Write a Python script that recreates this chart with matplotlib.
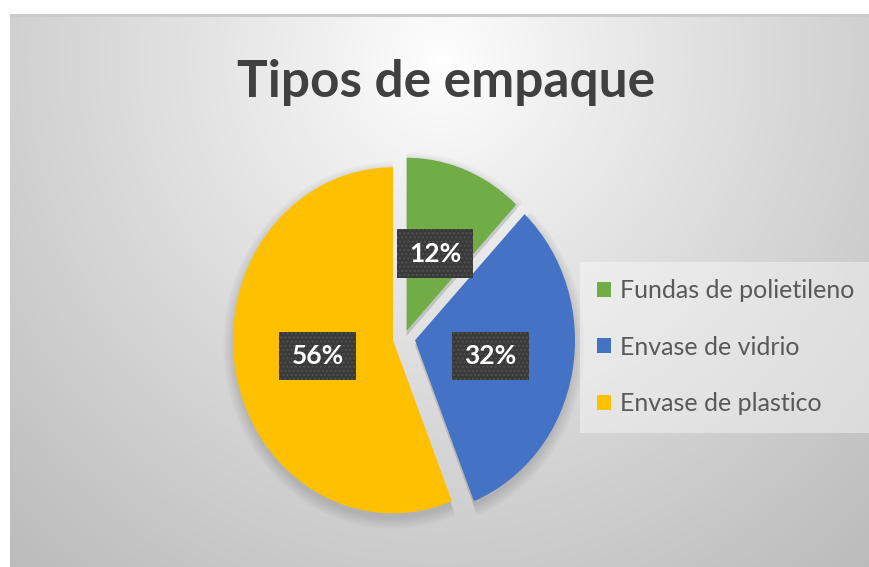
import numpy as np
import matplotlib.pyplot as plt
from matplotlib.patches import Patch

categories = ["Fundas de polietileno", "Envase de vidrio", "Envase de plastico"]
values = [12, 32, 56]
colors = ["#70AD47", "#4472C4", "#FFC000"]
title = "Tipos de empaque"

plt.rcParams['font.family'] = ['Lato', 'DejaVu Sans']

W, H = 870, 567
fig = plt.figure(figsize=(W / 100, H / 100), dpi=100)
fig.patch.set_facecolor('white')

# background gradient (chart area)
bg = fig.add_axes([0, 0, 1, 1])
bg.set_axis_off()
yy, xx = np.mgrid[0:H, 0:W]
d = np.sqrt(((xx - 440) / 500.0) ** 2 + ((yy - 60) / 520.0) ** 2)
v = 1 - 0.21 * np.clip(d, 0, 1.3) ** 0.9
img = np.dstack([v, v, v])
img[14:17, 10:] = 0.80
img[:14, :] = 1.0
img[:, :10] = 1.0
bg.imshow(img, extent=[0, W, H, 0], aspect='auto', interpolation='bilinear')
bg.set_xlim(0, W)
bg.set_ylim(H, 0)

explode = [0.045, 0.07, 0.07]
cx, cy, rx, ry, lim = 404, 338, 160, 173, 1.3
aw, ah = 2 * lim * rx, 2 * lim * ry

# soft shadow
sh = fig.add_axes([(cx - aw / 2) / W, (H - cy - 5 - ah / 2) / H, aw / W, ah / H])
for k in range(6):
    sh.pie(values, colors=['#000000'] * 3, startangle=90, counterclock=False,
           explode=explode, radius=1.0 + 0.012 * k,
           wedgeprops=dict(linewidth=0, alpha=0.025))
sh.set_aspect('auto')
sh.set_xlim(-lim, lim)
sh.set_ylim(-lim, lim)
sh.set_axis_off()

# pie axes
ax = fig.add_axes([(cx - aw / 2) / W, (H - cy - ah / 2) / H, aw / W, ah / H])
wedges, texts, autotexts = ax.pie(
    values, colors=colors, startangle=90, counterclock=False,
    explode=explode, autopct='%1.0f%%', pctdistance=0.48,
    wedgeprops=dict(linewidth=0),
    textprops=dict(color='white', fontsize=19, fontweight='bold'))
ax.set_aspect('auto')
ax.set_xlim(-lim, lim)
ax.set_ylim(-lim, lim)
ax.set_axis_off()
for t in autotexts:
    t.set_bbox(dict(boxstyle='square,pad=0.46', facecolor='#3a3a3a',
                    edgecolor='#505050', hatch='....', linewidth=0))

fig.text(446 / W, 1 - 83 / H, title, ha='center', va='center',
         fontsize=37, fontweight='bold', color='#404040')

handles = [Patch(facecolor=c, edgecolor='none') for c in colors]
leg = fig.legend(handles, categories, loc='upper left',
                 bbox_to_anchor=(580 / W, 1 - 262 / H), frameon=True,
                 facecolor='white', framealpha=0.4, edgecolor='none',
                 fontsize=18, handlelength=0.55, handleheight=0.55,
                 handletextpad=0.35, labelspacing=1.33, borderpad=0.7,
                 borderaxespad=0, fancybox=False)
for t in leg.get_texts():
    t.set_color('#595959')

fig.savefig('out.png', dpi=100)
